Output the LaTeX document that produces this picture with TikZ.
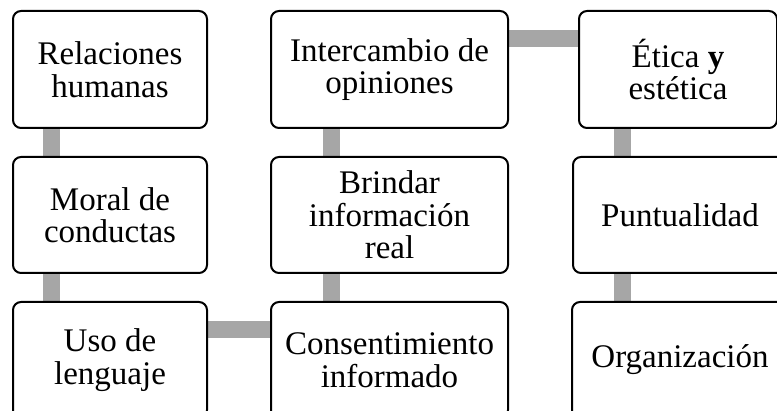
\documentclass[tikz,border=0pt]{standalone}
\usepackage{fontspec}
\setmainfont{Liberation Serif}
\usetikzlibrary{backgrounds}
\begin{document}
\begin{tikzpicture}[x=1pt,y=-1pt,
  box/.style={draw=black,line width=2pt,rounded corners=8pt,fill=white,
    inner sep=0pt,align=center,font=\fontsize{33}{32.5}\selectfont},
  conn/.style={draw={rgb,255:red,166;green,166;blue,166},line width=17pt}]
\useasboundingbox (0,0) rectangle (777,411);
\clip (0,0) rectangle (777,411);
% column 1
\node[box,minimum width=194pt,minimum height=117pt] (A) at (110,69.5) {Relaciones\\humanas};
\node[box,minimum width=194pt,minimum height=116pt] (B) at (110,215) {Moral de\\conductas};
\node[box,minimum width=194pt,minimum height=116pt] (C) at (110,360) {Uso de\\lenguaje};
% column 2
\node[box,minimum width=237pt,minimum height=117pt] (D) at (389.5,69.5) {Intercambio de\\opiniones};
\node[box,minimum width=237pt,minimum height=116pt] (E) at (389.5,215) {Brindar\\información\\real};
\node[box,minimum width=237pt,minimum height=116pt] (F) at (389.5,360) {Consentimiento\\informado};
% column 3
\node[box,minimum width=198pt,minimum height=117pt] (G) at (678,69.5) {Ética \textbf{y}\\estética};
\node[box,minimum width=214pt,minimum height=116pt] (H) at (680,215) {Puntualidad};
\node[box,minimum width=216pt,minimum height=116pt] (I) at (680,360) {Organización};
\begin{scope}[on background layer]
\draw[conn] ([xshift=39pt]A.south west) -- ([xshift=39pt]B.north west);
\draw[conn] ([xshift=39pt]B.south west) -- ([xshift=39pt]C.north west);
\draw[conn] ([yshift=-28.5pt]C.north east) -- ([yshift=-28.5pt]F.north west);
\draw[conn] ([xshift=61pt]F.north west) -- ([xshift=61pt]E.south west);
\draw[conn] ([xshift=61pt]E.north west) -- ([xshift=61pt]D.south west);
\draw[conn] ([yshift=-29pt]D.north east) -- ([yshift=-29pt]G.north west);
\draw[conn] ([xshift=44pt]G.south west) coordinate (g1) -- (g1 |- H.north);
\draw[conn] (H.south -| g1) -- (I.north -| g1);
\end{scope}
\end{tikzpicture}
\end{document}
